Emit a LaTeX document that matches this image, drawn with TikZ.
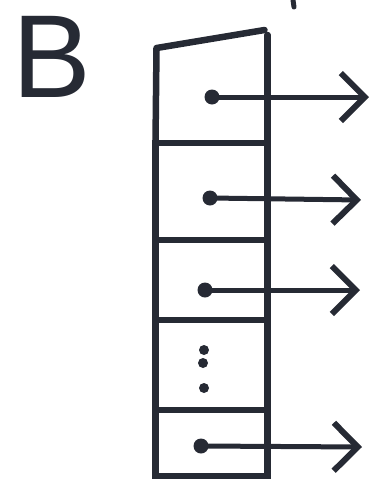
\documentclass[tikz,border=0pt]{standalone}
\usepackage{fontspec}
\newfontfamily\letterfont{Liberation Sans}
\usepackage{tikz}
\usetikzlibrary{arrows.meta, positioning, calc}
\definecolor{ink}{RGB}{38, 42, 52}

\begin{document}
\begin{tikzpicture}[x=1pt, y=-1pt,
    cell/.style={draw=ink, line width=6.5pt, minimum width=112pt, inner sep=0pt, outer sep=0pt},
    wall/.style={draw=ink, line width=6.5pt, line cap=round, line join=round},
    dot/.style={circle, fill=ink, inner sep=0pt, minimum size=15pt},
    pip/.style={circle, fill=ink, inner sep=0pt, minimum size=10pt},
    ptr/.style={-{Straight Barb[length=24pt, width=48pt, line width=6pt]}, draw=ink, line width=5pt, line cap=round}]
                    \useasboundingbox (0,0) rectangle (374,483);
                    \node[font=\fontsize{118}{118}\letterfont, text=ink] (lbl) at (52,57) {B};
                    % top cell has a slanted lid
                    \node[minimum width=112pt, minimum height=93pt, inner sep=0pt, outer sep=0pt] (c1) at (211.5,96.5) {};
                    \node[cell, minimum height=97pt, below=0pt of c1] (c2) {};
                    \node[cell, minimum height=80pt, below=0pt of c2] (c3) {};
                    \node[cell, minimum height=90pt, below=0pt of c3] (c4) {};
                    \node[cell, minimum height=66pt, below=0pt of c4] (c5) {};
                    \draw[wall] (c1.south west) -- ($(c1.north west)+(1,-2)$) -- ($(c1.north east)+(-3,-20)$);
                    \draw[wall] (c1.south east) -- ($(c1.north east)+(0,-15)$);
                    \node[dot] (d1) at (212,97) {};
                    \node[dot] (d2) at (210,198) {};
                    \node[dot] (d3) at (205,290) {};
                    \node[dot] (d5) at (201,446) {};
                    \node[pip] (p1) at (204,350) {};
                    \node[pip] (p2) at (203,363) {};
                    \node[pip] (p3) at (204,388) {};
                    \coordinate (e1) at (369,97);
                    \coordinate (e2) at (361,200);
                    \coordinate (e3) at (360,290);
                    \coordinate (e5) at (362,447);
                    \draw[ptr] (d1.center) -- (e1);
                    \draw[ptr] (d2.center) -- (e2);
                    \draw[ptr] (d3.center) -- (e3);
                    \draw[ptr] (d5.center) -- (e5);
                    \coordinate (m1) at (293,0);
                    \coordinate (m2) at (294,7);
                    \draw[wall, line width=5pt] (m1) -- (m2);
                \end{tikzpicture}
\end{document}
